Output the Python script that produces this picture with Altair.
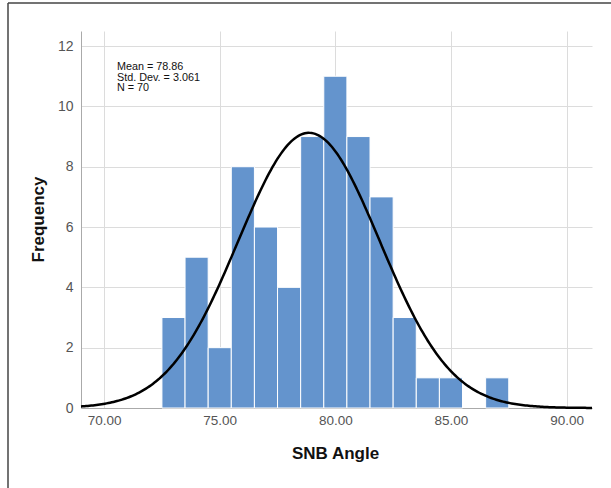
import altair as alt
import pandas as pd
import numpy as np

# Histogram data (bin width 1)
bin_starts = [72.5, 73.5, 74.5, 75.5, 76.5, 77.5, 78.5, 79.5, 80.5, 81.5, 82.5, 83.5, 84.5, 85.5, 86.5]
counts = [3, 5, 2, 8, 6, 4, 9, 11, 9, 7, 3, 1, 1, 0, 1]
bin_width = 1.0

mean = 78.86
sd = 3.061
n = 70
stats_lines = ["Mean = 78.86", "Std. Dev. = 3.061", "N = 70"]

x_ticks = [70, 75, 80, 85, 90]
y_ticks = [0, 2, 4, 6, 8, 10, 12]
x_domain = [69, 91.1]
y_domain = [0, 12.5]

bars = pd.DataFrame({
    "start": bin_starts,
    "end": [s + bin_width for s in bin_starts],
    "count": counts,
})
bars = bars[bars["count"] > 0]

# Fitted normal curve from the stated mean / sd / N
xs = np.linspace(x_domain[0], x_domain[1], 300)
curve = pd.DataFrame({
    "x": xs,
    "y": n * bin_width / (sd * np.sqrt(2 * np.pi)) * np.exp(-0.5 * ((xs - mean) / sd) ** 2),
})

stats = pd.DataFrame({"t": ["\n".join(stats_lines)]})

W, H = 511, 377

xscale = alt.Scale(domain=x_domain, nice=False, zero=False)
yscale = alt.Scale(domain=y_domain, nice=False)

xaxis = alt.Axis(values=x_ticks, format=".2f", title="SNB Angle", grid=True,
                 ticks=False, labelPadding=5, labelFontSize=13.5,
                 titleX=254, titleY=45, titleBaseline="middle", titleAlign="center")
yaxis = alt.Axis(values=y_ticks, title="Frequency", grid=True, ticks=False,
                 labelPadding=8, labelFontSize=14,
                 titleX=-43, titleY=188, titleAlign="center", titleBaseline="middle", titleAngle=-90)

hist = alt.Chart(bars).mark_rect(color="#6494cd", stroke="white", strokeWidth=1).encode(
    x=alt.X("start:Q", scale=xscale, axis=xaxis),
    x2="end:Q",
    y=alt.Y("count:Q", scale=yscale, axis=yaxis),
    y2=alt.datum(0),
)

line = alt.Chart(curve).mark_line(color="black", strokeWidth=2.5).encode(
    x=alt.X("x:Q", scale=xscale),
    y=alt.Y("y:Q", scale=yscale),
)

text = alt.Chart(stats).mark_text(align="left", baseline="top", fontSize=10.8, lineBreak="\n",
                                  lineHeight=10.5, font="Liberation Sans", color="#111").encode(
    x=alt.value(36),
    y=alt.value(30),
    text="t:N",
)

frame_left = alt.Chart(pd.DataFrame({"a": [0]})).mark_rule(color="#444", strokeWidth=1.5).encode(
    x=alt.value(-73), y=alt.value(-28), y2=alt.value(H + 80)
)
frame_top = alt.Chart(pd.DataFrame({"a": [0]})).mark_rule(color="#444", strokeWidth=1.5).encode(
    x=alt.value(-73), x2=alt.value(W + 19), y=alt.value(-28)
)

chart = alt.layer(hist, line, text, frame_left, frame_top).properties(
    width=W, height=H,
    autosize=alt.AutoSizeParams(type="none"),
    padding={"left": 81, "top": 31, "right": 19, "bottom": 80},
    background="white",
).configure_view(stroke=None).configure_axis(
    gridColor="#dcdcdc", gridWidth=1, domainColor="#aaaaaa",
    labelColor="#555555", labelFont="Liberation Sans",
    titleFont="Liberation Sans", titleFontSize=17, titleFontWeight="bold", titleColor="#111",
)

chart.save("out.html", embed_options={"renderer": "svg", "actions": False})
